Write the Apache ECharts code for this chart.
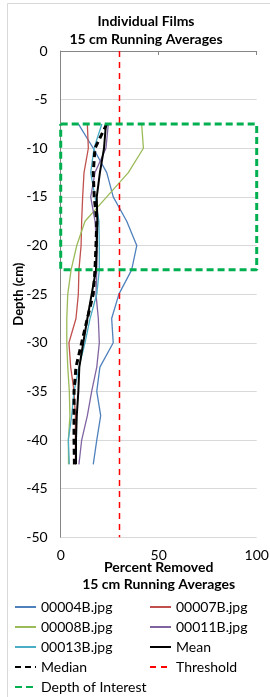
<!DOCTYPE html>
<html>
<head>
<meta charset="utf-8">
<script src="https://cdn.jsdelivr.net/npm/echarts@6/dist/echarts.min.js"></script>
<style>
  html, body { margin: 0; padding: 0; background: #fff; }
  #chart { width: 270px; height: 697px; }
</style>
</head>
<body>
<div id="chart"></div>
<script>
// 深度（cm），每 2.5 cm 一个点
var depth = [-7.5, -10, -12.5, -15, -17.5, -20, -22.5, -25, -27.5, -30, -32.5, -35, -37.5, -40, -42.5];

// 各胶片的去除百分比
var f00004B = [9.0, 16.6, 23.5, 26.8, 33.7, 38.8, 36.2, 29.7, 26.0, 26.8, 20.0, 18.4, 20.4, 18.4, 16.6];
var f00007B = [13.6, 14.1, 11.9, 11.2, 10.7, 10.4, 9.3, 9.0, 7.8, 4.2, 5.1, 6.8, 7.5, 7.5, 7.5];
var f00008B = [41.3, 42.2, 34.5, 23.5, 12.4, 8.2, 5.3, 3.6, 3.1, 3.1, 3.6, 4.4, 4.7, 3.9, 4.0];
var f00011B = [24.3, 23.1, 17.5, 15.3, 17.5, 18.4, 18.4, 18.0, 19.2, 19.7, 18.4, 15.8, 13.6, 10.7, 9.3];
var f00013B = [21.0, 17.0, 15.3, 17.5, 19.5, 19.7, 19.7, 18.4, 15.0, 12.4, 9.3, 6.8, 5.6, 3.9, 4.4];
var mean    = [23.1, 22.1, 20.0, 18.4, 18.7, 18.4, 18.0, 15.8, 13.6, 11.5, 9.5, 9.0, 8.2, 7.8, 7.8];
var median  = [23.5, 17.5, 16.6, 17.1, 18.4, 18.0, 17.5, 16.6, 13.6, 10.7, 7.8, 6.8, 6.8, 6.8, 7.0];

// 阈值线和关注深度框
var thresholdX = [30, 30];
var thresholdY = [0, -50];
var boxX = [0, 100, 100, 0, 0];
var boxY = [-7.5, -7.5, -22.5, -22.5, -7.5];

var font = 'Lato, "Open Sans", sans-serif';

function pairs(xs, ys) {
    return xs.map(function (v, i) { return [v, ys[i]]; });
}

function film(name, vals, color, width, type) {
    return {
        name: name,
        type: 'line',
        data: pairs(vals, depth),
        symbol: 'none',
        lineStyle: { color: color, width: width, type: type || 'solid' },
        itemStyle: { color: color }
    };
}

var legendBase = {
    orient: 'vertical',
    top: 600,
    padding: 0,
    itemWidth: 21, itemHeight: 14, itemGap: 6,
    itemStyle: { opacity: 0 },
    textStyle: { fontFamily: font, fontSize: 14, color: '#000', lineHeight: 14 }
};

var option = {
    animation: false,
    backgroundColor: '#fff',
    textStyle: { fontFamily: font },
    graphic: [{
        type: 'rect',
        shape: { x: 7.5, y: 3.5, width: 400, height: 900 },
        style: { fill: 'none', stroke: '#D9D9D9', lineWidth: 1 },
        silent: true
    }],
    title: {
        text: 'Individual Films\n15 cm Running Averages',
        left: 141,
        top: 7,
        textAlign: 'center',
        textStyle: { fontFamily: font, fontSize: 14, fontWeight: 'bold', color: '#000', lineHeight: 18 }
    },
    grid: { left: 60.7, right: 13.3, top: 51, bottom: 159.7, outerBoundsMode: 'none' },
    xAxis: {
        type: 'value',
        min: 0, max: 100, interval: 50,
        name: 'Percent Removed\n15 cm Running Averages',
        nameLocation: 'middle',
        nameGap: 22,
        nameMoveOverlap: false,
        nameTextStyle: { fontFamily: font, fontSize: 14, fontWeight: 'bold', color: '#000', lineHeight: 17, verticalAlign: 'top' },
        axisLine: { show: true, lineStyle: { color: '#868686' } },
        axisTick: { show: true, length: 4, lineStyle: { color: '#868686' } },
        axisLabel: { fontFamily: font, fontSize: 14, color: '#000', margin: 11 },
        splitLine: { show: false }
    },
    yAxis: {
        type: 'value',
        min: -50, max: 0, interval: 5,
        name: 'Depth (cm)',
        nameLocation: 'middle',
        nameGap: 35.5,
        nameMoveOverlap: false,
        nameTextStyle: { fontFamily: font, fontSize: 13, fontWeight: 'bold', color: '#000' },
        axisLine: { show: true, lineStyle: { color: '#868686' } },
        axisTick: { show: false },
        axisLabel: { fontFamily: font, fontSize: 14, color: '#000', margin: 13 },
        splitLine: { show: true, lineStyle: { color: '#D9D9D9' } }
    },
    legend: [
        Object.assign({}, legendBase, {
            left: 14,
            data: ['00004B.jpg', '00008B.jpg', '00013B.jpg', 'Median', 'Depth of Interest']
        }),
        Object.assign({}, legendBase, {
            left: 149,
            data: ['00007B.jpg', '00011B.jpg', 'Mean', 'Threshold']
        })
    ],
    series: [
        film('00004B.jpg', f00004B, '#4F81BD', 1.3),
        film('00007B.jpg', f00007B, '#C0504D', 1.3),
        film('00008B.jpg', f00008B, '#9BBB59', 1.3),
        film('00011B.jpg', f00011B, '#8064A2', 1.3),
        film('00013B.jpg', f00013B, '#4BACC6', 1.3),
        film('Mean', mean, '#000', 2),
        film('Median', median, '#000', 3, [6, 4]),
        {
            name: 'Threshold',
            type: 'line',
            data: pairs(thresholdX, thresholdY),
            symbol: 'none',
            lineStyle: { color: '#FF0000', width: 1.5, type: [6, 5] },
            itemStyle: { color: '#FF0000' }
        },
        {
            name: 'Depth of Interest',
            type: 'line',
            data: pairs(boxX, boxY),
            symbol: 'none',
            clip: false,
            lineStyle: { color: '#00B050', width: 3, type: [7, 4] },
            itemStyle: { color: '#00B050' }
        }
    ]
};

var myChart = echarts.init(document.getElementById('chart'), null, { renderer: 'canvas' });
myChart.setOption(option);
</script>
</body>
</html>
